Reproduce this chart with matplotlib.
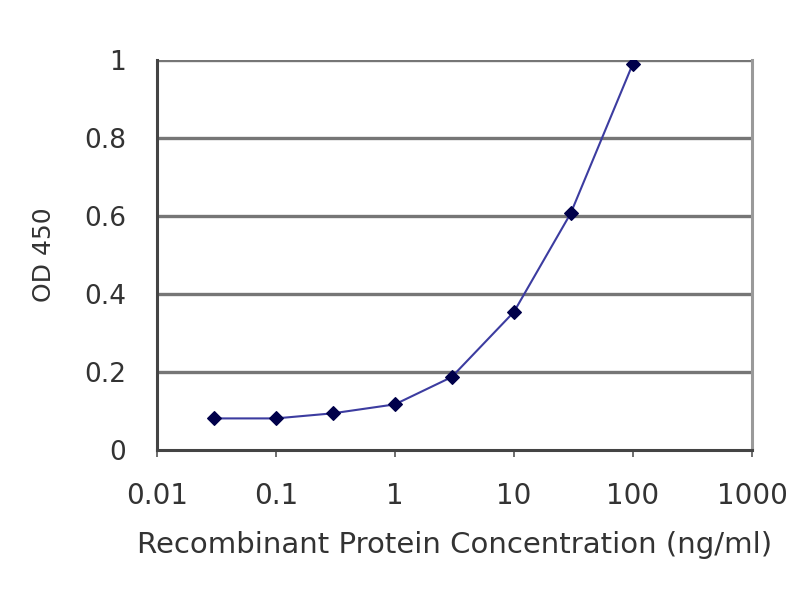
import matplotlib
matplotlib.use('Agg')
import matplotlib.pyplot as plt
import numpy as np

# ELISA standard curve
concentration = [0.03, 0.1, 0.3, 1, 3, 10, 30, 100]
od450 = [0.081, 0.081, 0.094, 0.117, 0.187, 0.354, 0.607, 0.991]

x_ticks = [0.01, 0.1, 1, 10, 100, 1000]
x_tick_labels = ['0.01', '0.1', '1', '10', '100', '1000']
y_ticks = [0, 0.2, 0.4, 0.6, 0.8, 1]
y_tick_labels = ['0', '0.2', '0.4', '0.6', '0.8', '1']

plt.rcParams['font.family'] = ['DejaVu Sans']

fig = plt.figure(figsize=(8, 6), dpi=100)
ax = fig.add_axes([0.196, 0.25, 0.744, 0.65])

ax.set_xscale('log')
ax.set_xlim(0.01, 1000)
ax.set_ylim(0, 1)

for y in y_ticks[1:]:
    ax.axhline(y, color='#767676', linewidth=2.4, zorder=1)

ax.plot(concentration, od450, color='#3c3ca0', linewidth=1.5, zorder=3)
ax.scatter(concentration, od450, marker='D', s=48, color='#00004a', zorder=4)

ax.set_xticks(x_ticks)
ax.set_xticklabels(x_tick_labels)
ax.set_yticks(y_ticks)
ax.set_yticklabels(y_tick_labels)
ax.minorticks_off()
ax.tick_params(axis='x', direction='out', length=5, width=1.2, color='#555555',
               pad=18, labelsize=20, labelcolor='#333333')
ax.tick_params(axis='y', length=0, pad=22, labelsize=19, labelcolor='#333333')

for side in ['left', 'bottom']:
    ax.spines[side].set_color('#444444')
    ax.spines[side].set_linewidth(2.2)
ax.spines['top'].set_visible(False)
ax.spines['right'].set_color('#9a9a9a')
ax.spines['right'].set_linewidth(2.2)

ax.set_xlabel('Recombinant Protein Concentration (ng/ml)', fontsize=21,
              color='#333333', labelpad=15)
ax.set_ylabel('OD 450', fontsize=18, color='#333333', labelpad=20)

fig.savefig('out.png', dpi=100, facecolor='white')
